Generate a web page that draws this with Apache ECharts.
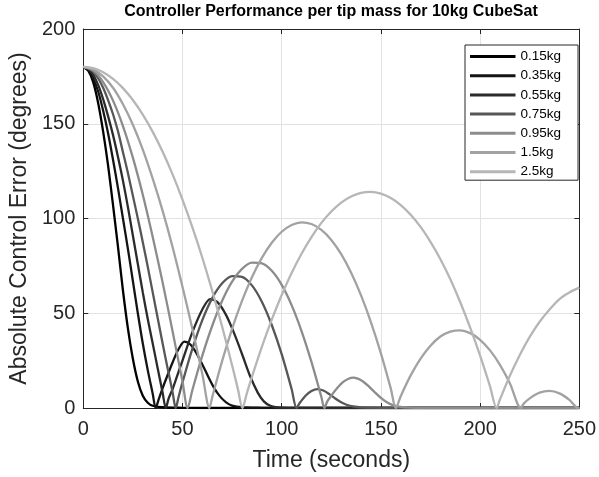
<!DOCTYPE html>
<html>
<head>
<meta charset="utf-8">
<script src="https://cdn.jsdelivr.net/npm/echarts@6/dist/echarts.min.js"></script>
<style>
html,body{margin:0;padding:0;background:#fff;}
#chart{width:599px;height:477px;}
</style>
</head>
<body>
<div id="chart"></div>
<script>
// ---- data: [time (s), absolute error (deg)] ----
const seriesNames = ['0.15kg', '0.35kg', '0.55kg', '0.75kg', '0.95kg', '1.5kg', '2.5kg'];
const seriesColors = ['#000000', '#141414', '#2b2b2b', '#575757', '#8c8c8c', '#a2a2a2', '#b6b6b6'];

const m015 = [[0,180],[2.5,178],[5,172],[7.5,161],[10,146],[12.5,128],[15,107],[17.5,85],[20,62],[22.5,42],[25,26],[27.5,14],[30,6.5],[32.5,2.8],[35,1.2],[40,0.4],[50,0.1],[60,0],[250,0]];

const m035 = [[0,180],[2.5,178.5],[5,174],[7.5,167],[10,157],[12.5,145],[15,131],[17.5,116],[20,100],[22.5,84],[25,67],[27.5,50],[30,34],[32.5,20],[35,7.5],[36.5,0],[38,4.5],[40,10.5],[42,16],[45,24],[48,31],[51,35],[54,33.5],[57,29],[60,23],[63,16.5],[66,10.5],[69,6],[72,3],[75,1.3],[80,0.4],[90,0.1],[100,0],[250,0]];

const m055 = [[0,180],[2.5,179],[5,176],[7.5,170.5],[10,163],[12.5,154],[15,144],[17.5,132.5],[20,120],[22.5,106],[25,91],[27.5,76],[30,61],[32.5,47],[35,34],[37.5,21],[40,8],[41.6,0],[43,5],[45,10],[47.5,17.5],[50,25],[55,40],[60,52],[64,57.5],[68,55.5],[72,49],[76,39.5],[80,28.5],[84,17],[88,8],[91,3.5],[94,1.3],[97,0.5],[100,0.2],[110,0.05],[120,0],[250,0]];

const m075 = [[0,180],[2.5,179.3],[5,177.5],[7.5,174],[10,169],[12.5,162.5],[15,155],[17.5,146],[20,135],[22.5,124],[25,112],[27.5,100],[30,87.5],[32.5,74.5],[35,61],[37.5,47.5],[40,34],[42.5,21],[45,8.5],[46.6,0],[48,5.7],[50,13.5],[55,31.3],[60,46.4],[65,58],[70,65.8],[75,69.6],[80,69.2],[85,64.7],[90,56.1],[95,43.8],[100,28.4],[105,10],[107.5,0],[109,2.5],[112,6.5],[115,9],[118,10],[121,9.2],[124,7.3],[127,5],[130,3],[133,1.6],[136,0.8],[140,0.3],[150,0.05],[160,0],[250,0]];

const m095 = [[0,180],[5,178],[10,172],[15,162.2],[20,148.8],[25,132.1],[30,112.5],[35,90.2],[40,66.2],[45,40.5],[50,14],[52.6,0],[55,9.5],[60,27.6],[65,43.4],[70,56.6],[75,66.7],[80,73.4],[85,76.7],[90,76.3],[95,72.4],[100,65],[105,54.3],[110,40.6],[115,24.3],[120,5.8],[121.5,0],[123,3.5],[125,6.5],[128,10.5],[131,13.8],[134,15.6],[136,16],[138,15.6],[141,14],[144,11.3],[147,8.2],[150,5.3],[153,3],[156,1.5],[160,0.6],[165,0.2],[170,0.05],[180,0],[250,0]];

const m150 = [[0,180],[5,178.7],[10,175],[15,169],[20,160.3],[25,149.5],[30,136.4],[35,121],[40,104],[45,85],[50,64],[55,41.7],[60,17.9],[63.6,0],[65,5.75],[70,24.9],[75,41.8],[80,56.5],[85,69],[90,79.2],[95,87.2],[100,93],[105,96.6],[110,98],[115,97.1],[120,94],[125,88.7],[130,81.2],[135,71.4],[140,59.4],[145,45.2],[150,28.8],[155,10.2],[157.5,0],[160,6.25],[165,17.2],[170,26.1],[175,32.9],[180,37.7],[185,40.3],[190,41],[195,39.5],[200,36],[205,30.4],[210,22.8],[215,13.1],[220.5,0],[222,2.3],[225,5.1],[230,8.1],[235,9],[240,7.7],[245,4.3],[249.5,0],[250,0.3]];

const m250 = [[0,180],[5,179.3],[10,177.2],[15,173.7],[20,168.8],[25,162.5],[30,154.8],[35,145.7],[40,135.2],[45,123.3],[50,110],[55,95.3],[60,79.3],[65,61.8],[70,42.9],[75,22.6],[78,9.7],[80.2,0],[82.5,8],[85,16.4],[90,32.2],[95,46.6],[100,59.6],[105,71.2],[110,81.4],[115,90.2],[120,97.7],[125,103.7],[130,108.4],[135,111.6],[140,113.5],[145,114],[150,113.1],[155,110.8],[160,107.1],[165,102],[170,95.6],[175,87.7],[180,78.5],[185,67.9],[190,55.8],[195,42.4],[200,27.6],[205,11.4],[208.3,0],[210,4.5],[215,17],[220,28],[225,37.5],[230,45.5],[235,52],[240,57.5],[245,61],[250,63.5]];

const seriesData = [m015, m035, m055, m075, m095, m150, m250];

const xTicks = {min: 0, max: 250, interval: 50};
const yTicks = {min: 0, max: 200, interval: 50};
const titleText = 'Controller Performance per tip mass for 10kg CubeSat';
const xName = 'Time (seconds)';
const yName = 'Absolute Control Error (degrees)';

// ---- chart ----
const FONT = '"Liberation Sans", Arial, Helvetica, sans-serif';
const AX = '#262626';
const chart = echarts.init(document.getElementById('chart'), null, {renderer: 'canvas'});

const boxAxis = (pos) => ({
  type: 'value', position: pos,
  axisLine: {show: true, onZero: false, lineStyle: {color: AX, width: 1}},
  axisTick: {show: true, inside: true, length: 5, lineStyle: {color: AX}},
  axisLabel: {show: false},
  splitLine: {show: false}
});

const option = {
  animation: false,
  backgroundColor: '#ffffff',
  title: {
    text: titleText, left: 331, top: 4, textAlign: 'center', padding: 0,
    textStyle: {fontFamily: FONT, fontSize: 16, fontWeight: 'bold', color: '#000'}
  },
  grid: {left: 82, right: 18, top: 29, bottom: 67, containLabel: false},
  legend: {
    orient: 'vertical', left: 465, top: 45,
    padding: [4, 17, 1, 5],
    itemWidth: 45.5, itemHeight: 3, itemGap: 4.2,
    icon: 'rect',
    backgroundColor: '#ffffff', borderColor: AX, borderWidth: 1,
    textStyle: {fontFamily: FONT, fontSize: 13.5, color: '#000', lineHeight: 15},
    data: seriesNames
  },
  xAxis: [
    Object.assign({}, xTicks, {
      type: 'value', position: 'bottom',
      name: xName, nameLocation: 'middle', nameGap: 41,
      nameTextStyle: {fontFamily: FONT, fontSize: 23, color: AX},
      axisLine: {show: true, onZero: false, lineStyle: {color: AX, width: 1}},
      axisTick: {show: true, inside: true, length: 5, lineStyle: {color: AX}},
      axisLabel: {fontFamily: FONT, fontSize: 20, color: AX, margin: 11},
      splitLine: {show: true, lineStyle: {color: '#e2e2e2', width: 1}}
    }),
    Object.assign({}, xTicks, boxAxis('top'))
  ],
  yAxis: [
    Object.assign({}, yTicks, {
      type: 'value', position: 'left',
      name: yName, nameLocation: 'middle', nameGap: 46,
      nameTextStyle: {fontFamily: FONT, fontSize: 23, color: AX},
      axisLine: {show: true, onZero: false, lineStyle: {color: AX, width: 1}},
      axisTick: {show: true, inside: true, length: 5, lineStyle: {color: AX}},
      axisLabel: {fontFamily: FONT, fontSize: 20, color: AX, margin: 8},
      splitLine: {show: true, lineStyle: {color: '#e2e2e2', width: 1}}
    }),
    Object.assign({}, yTicks, boxAxis('right'))
  ],
  series: seriesNames.map((name, i) => ({
    name: name, type: 'line', xAxisIndex: 0, yAxisIndex: 0,
    data: seriesData[i],
    showSymbol: false, symbol: 'none', smooth: 0.3,
    color: seriesColors[i],
    lineStyle: {color: seriesColors[i], width: 2.3},
    z: 2 + i
  }))
};
chart.setOption(option);
</script>
</body>
</html>
